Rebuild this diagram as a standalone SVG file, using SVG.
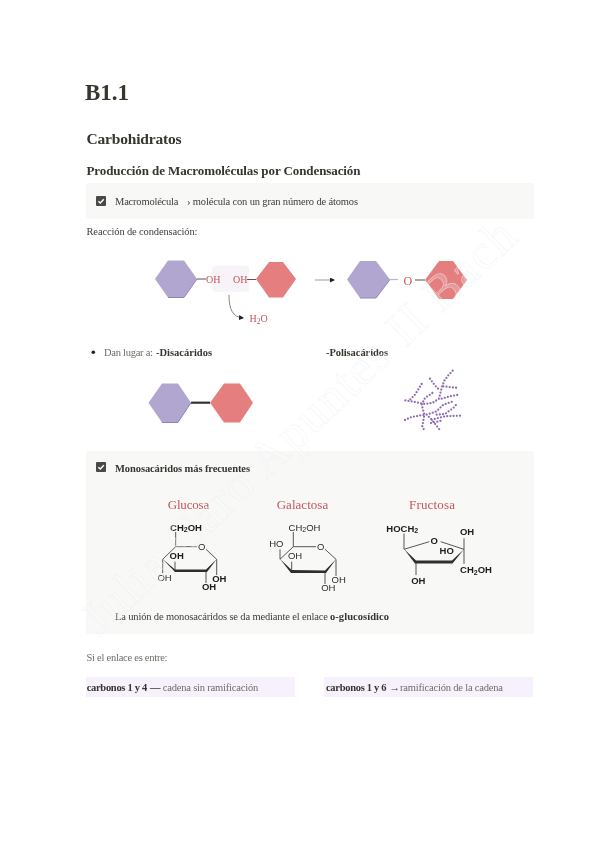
<svg xmlns="http://www.w3.org/2000/svg" width="600" height="848" viewBox="0 0 600 848">
<style>
text{font-family:"Liberation Serif","DejaVu Serif",serif;fill:#37352f}
.b{font-weight:700}
.body{font-size:10.5px;fill:#3f3d38}
.dim{font-size:10.5px;fill:#6f6c66}
.red{fill:#c8565c;font-size:13px}
.chem{font-family:"Liberation Sans",Arial,sans-serif;font-size:9.5px;fill:#2b2b2b;text-anchor:middle}
.chemb{font-weight:700;fill:#1c1c1c}
.oh{fill:#c4555a;font-size:10px}
.panel{fill:#f8f8f6}
.box{fill:#f6f1fc}
.pur{fill:#b1a6d0}
.rd{fill:#e57f7f}
.edge{fill:none;stroke:#8f84ba;stroke-width:1}
.bond{stroke:#444;stroke-width:.9;fill:none}
.w{fill:#2e2e2e;stroke:none}
.chain{fill:none;stroke:#8f6bb3;stroke-width:6.800;stroke-linecap:round;stroke-dasharray:0 9.600;stroke-linejoin:round}
.wm{font-size:50px;fill:#fff;fill-opacity:.2;stroke:#e9eff3;stroke-opacity:.65;stroke-width:.6}
</style>
<defs>
<g id="chk"><rect width="10" height="10" rx="1" fill="#4a4a48"/><path d="M2.4 5.2 4.3 7 7.8 3.2" fill="none" stroke="#fff" stroke-width="1.4"/></g>
<marker id="ah" markerWidth="6" markerHeight="6" refX="4" refY="2.5" orient="auto" markerUnits="userSpaceOnUse"><path d="M0 0 5 2.5 0 5z" fill="#222"/></marker>
<filter id="soft" x="0" y="0" width="100%" height="100%"><feGaussianBlur stdDeviation=".35"/></filter>
</defs>
<rect width="600" height="848" fill="#fff"/>
<g filter="url(#soft)">
<g id="headings">
<text class="b" x="85" y="100" font-size="23" textLength="44">B1.1</text>
<text class="b" x="86.500" y="144" font-size="15.500" textLength="95">Carbohidratos</text>
<text class="b" x="86.500" y="175" font-size="13" textLength="274">Producción de Macromoléculas por Condensación</text>
</g>

<g id="panel-macro">
<rect class="panel" x="86" y="183" width="448" height="36" rx="2"/>
<use href="#chk" x="96" y="196"/>
<text class="body" x="115" y="205" textLength="63.500">Macromolécula</text>
<text class="body" x="187" y="205" textLength="171">› molécula con un gran número de átomos</text>
</g>
<text id="reaccion" class="body" x="86.500" y="235" textLength="111">Reacción de condensación:</text>

<g id="reaction-left">
<rect x="212.300" y="265.700" width="36.700" height="26" rx="3" fill="#f8f3f8"/>
<polygon class="pur" points="155,279 168,260.500 184,260.500 197,279 184,297.500 168,297.500"/>
<path class="edge" d="M197 279 184 297.500H168"/>
<polygon class="rd" points="256,279 269,262 283,262 296,279 283,297.500 269,297.500"/>
<text class="oh" x="206" y="283">OH</text>
<text class="oh" x="233" y="283">OH</text>
<text class="oh" x="249.500" y="322">H<tspan font-size="7.500" dy="1.500">2</tspan><tspan dy="-1.500">O</tspan></text>
</g>
<g id="reaction-right">
<polygon class="pur" points="347,279.500 360,261 376,261 390,279.500 376,298 360,298"/>
<path class="edge" d="M390 279.500 376 298H360"/>
<polygon class="rd" points="425,280 439,261 453,261 467,280 453,299 439,299"/>
<text class="oh" x="403.500" y="284.500" style="font-size:12px">O</text>
</g>
<g id="connectors">
<path class="bond" d="M197 279H206M247 279.500H256"/>
<path d="M390 279.500H398" stroke="#bbb" stroke-width="1.200"/>
<path class="bond" d="M415 280H425"/>
<path d="M315 280H334" stroke="#999" stroke-width="1" marker-end="url(#ah)"/>
<path d="M229 295C229 310 233 317 243 318" fill="none" stroke="#777" stroke-width=".9" marker-end="url(#ah)"/>
<path d="M191 402.700H210" stroke="#333" stroke-width="2.200"/>
</g>

<g id="list">
<circle cx="93.300" cy="352.300" r="1.800" fill="#222"/>
<text class="dim" x="104" y="356" textLength="49">Dan lugar a:</text>
<text class="b" x="156" y="356" font-size="10.500" textLength="56">-Disacáridos</text>
<text class="b" x="326" y="356" font-size="10.500" textLength="62">-Polisacáridos</text>
</g>
<g id="disaccharide">
<polygon class="pur" points="148.500,402.700 162,383.500 178,383.500 191,402.700 178,422.500 162,422.500"/>
<path class="edge" d="M191 402.700 178 422.500H162"/>
<polygon class="rd" points="210,402.700 224,383.500 240,383.500 253,402.700 240,422.500 224,422.500"/>
</g>
<g id="polysaccharide" transform="translate(395 368) scale(.3333)">
<path class="chain" d="M173 8 160 22 148 38 140 60 132 92 112 105 88 108 50 100 22 96"/>
<path class="chain" d="M105 32 118 50 135 68M145 55 190 60M80 48 60 80 42 98M140 92 165 85 190 80M112 75 90 90 80 110 88 140 82 175 90 192M30 156 50 147 78 142 95 140 110 155 138 190M95 140 125 130 145 110 175 100M110 155 150 145 200 143M125 140 150 138 175 120 188 105M108 165 140 158"/>
</g>

<g id="panel-mono">
<rect class="panel" x="86" y="451" width="448" height="183" rx="2"/>
<use href="#chk" x="96" y="462"/>
<text class="b" x="115" y="472" font-size="10.500" textLength="135">Monosacáridos más frecuentes</text>
<text class="body" x="115" y="619.500" textLength="213">La unión de monosacáridos se da mediante el enlace</text>
<text class="b" x="330" y="619.500" font-size="10.500" textLength="59">o-glucosídico</text>
</g>

<g id="glucosa">
<text class="red" x="167.700" y="508.500" textLength="41.500">Glucosa</text>
<path class="bond" d="M175.700 532V546.700L162.700 559.300V573M175.700 546.700H197M206 549.300 216.700 559.300V575M175 570.700V561.700M206 570.700V583"/>
<polygon class="w" points="162.500,559 175,569.500 206,569.500 216.700,559.300 207,572 175,572"/>
<text class="chem chemb" x="186" y="530.700">CH<tspan font-size="7" dy="1.500">2</tspan><tspan dy="-1.500">OH</tspan></text>
<text class="chem" x="201.700" y="550">O</text>
<text class="chem chemb" x="176.700" y="559">OH</text>
<text class="chem" x="164.500" y="581">OH</text>
<text class="chem chemb" x="219.300" y="581.700">OH</text>
<text class="chem chemb" x="209" y="590">OH</text>
</g>
<g id="galactosa">
<text class="red" x="276.700" y="508.500" textLength="51.500">Galactosa</text>
<path class="bond" d="M293.300 532V546.700L280 559.300V549.300M293.300 546.700H316M325 549.300 336 559.300V576M291.700 570.700V561.700M325 571.700V584"/>
<polygon class="w" points="280,559 291.700,570 325,570.500 336,559.300 326,573 291,573"/>
<text class="chem" x="304.500" y="530.700">CH<tspan font-size="7" dy="1.500">2</tspan><tspan dy="-1.500">OH</tspan></text>
<text class="chem" x="320.700" y="550">O</text>
<text class="chem" x="276.300" y="547.300">HO</text>
<text class="chem" x="295" y="559.300">OH</text>
<text class="chem" x="338.700" y="583">OH</text>
<text class="chem" x="328.300" y="591">OH</text>
</g>
<g id="fructosa">
<text class="red" x="409" y="508.500" textLength="46">Fructosa</text>
<path class="bond" d="M404 533.500V549.300L429.300 541.700M440.700 541.700 464 549.300M464 538.300V564M416 561.700V575"/>
<polygon class="w" points="404,549 416,560.500 452,560.500 464,549.300 452.500,563.500 415,563.500"/>
<text class="chem chemb" x="402.300" y="531.700">HOCH<tspan font-size="7" dy="1.500">2</tspan></text>
<text class="chem chemb" x="434.300" y="543.500">O</text>
<text class="chem chemb" x="467" y="535">OH</text>
<text class="chem chemb" x="446.700" y="554.300">HO</text>
<text class="chem chemb" x="476" y="573.300">CH<tspan font-size="7" dy="1.500">2</tspan><tspan dy="-1.500">OH</tspan></text>
<text class="chem chemb" x="418.300" y="584.300">OH</text>
</g>

<g id="bottom">
<text class="dim" x="86.500" y="660.500" textLength="81">Si el enlace es entre:</text>
<rect class="box" x="86" y="677" width="209" height="20"/>
<rect class="box" x="324" y="677" width="209" height="20"/>
<text class="b" x="86.700" y="690.500" font-size="10.500" textLength="60.500">carbonos 1 y 4</text>
<text class="b" x="150" y="690.500" font-size="10.500">—</text>
<text class="dim" x="162.700" y="690.500" textLength="95.500">cadena sin ramificación</text>
<text class="b" x="326" y="690.500" font-size="10.500" textLength="60.500">carbonos 1 y 6</text>
<text class="b" x="389.500" y="690.500" font-size="10.500">→</text>
<text class="dim" x="400" y="690.500" textLength="103">ramificación de la cadena</text>
</g>

<text id="watermark" class="wm" transform="translate(100 638) rotate(-43.500)" textLength="578">Julia Caro Apuntes II Bach</text>
</g>
</svg>
